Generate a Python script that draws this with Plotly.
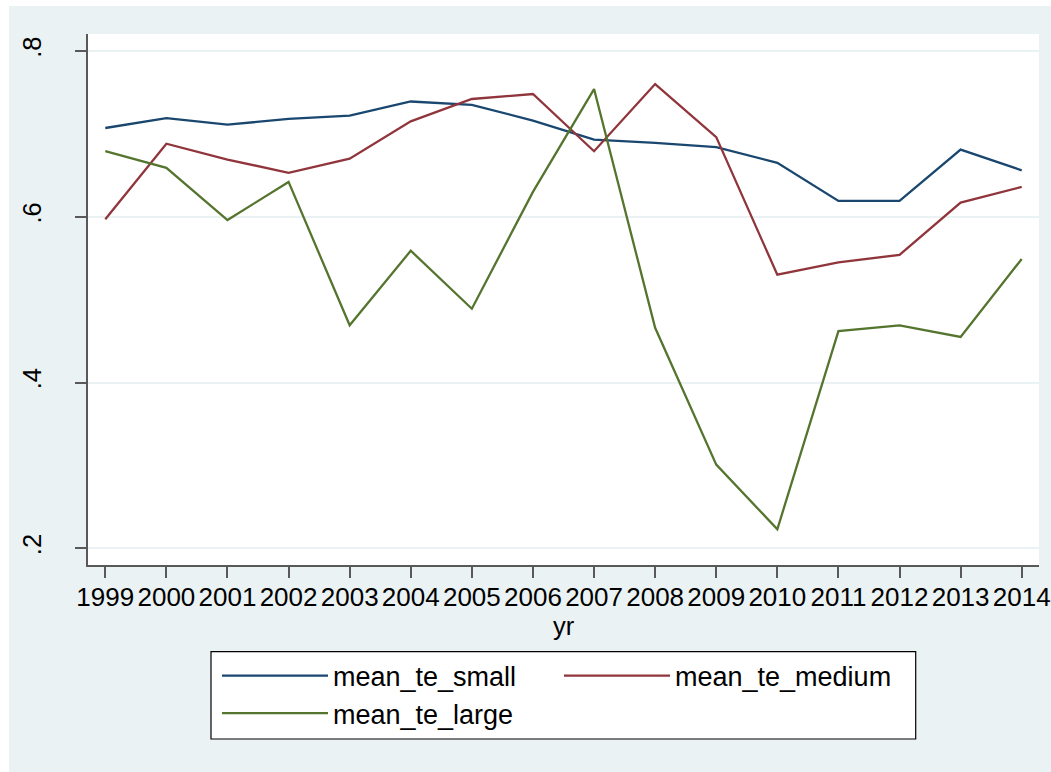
import plotly.graph_objects as go

# Mean technical efficiency by firm size, 1999-2014
years = list(range(1999, 2015))
mean_te_small = [0.707, 0.719, 0.711, 0.718, 0.722, 0.739, 0.735, 0.716, 0.693, 0.689,
                 0.684, 0.665, 0.619, 0.619, 0.681, 0.656]
mean_te_medium = [0.597, 0.688, 0.669, 0.653, 0.670, 0.715, 0.742, 0.748, 0.679, 0.760,
                  0.696, 0.530, 0.545, 0.554, 0.617, 0.636]
mean_te_large = [0.679, 0.659, 0.596, 0.642, 0.469, 0.559, 0.489, 0.630, 0.754, 0.466,
                 0.301, 0.223, 0.462, 0.469, 0.455, 0.549]

series_names = ["mean_te_small", "mean_te_medium", "mean_te_large"]
series_colors = ["#1A476F", "#90353B", "#55752F"]
series_legends = ["legend", "legend", "legend2"]

y_tickvals = [0.2, 0.4, 0.6, 0.8]
y_ticktext = [".2", ".4", ".6", ".8"]
x_title = "yr"

BG = "#EAF2F3"
AXIS = "#595959"
FONT = "Liberation Sans, Arial, sans-serif"

W, H = 1051, 772
ML, MR, MT, MB = 88, 12, 34, 207
PW, PH = W - ML - MR, H - MT - MB


def px_x(p):
    return (p - ML) / PW


def px_y(p):
    return (H - MB - p) / PH


fig = go.Figure()
for name, vals, color, lg in zip(series_names,
                                 [mean_te_small, mean_te_medium, mean_te_large],
                                 series_colors, series_legends):
    fig.add_trace(go.Scatter(x=years, y=vals, mode="lines", name=name,
                             line=dict(color=color, width=2.3), legend=lg))

legend_common = dict(
    orientation="h", xanchor="left", yanchor="middle",
    bgcolor="rgba(0,0,0,0)", borderwidth=0, itemwidth=106,
    font=dict(family=FONT, size=27, color="#000000"),
    entrywidth=221, entrywidthmode="pixels", tracegroupgap=0,
)

fig.update_layout(
    width=W, height=H,
    margin=dict(l=ML, r=MR, t=MT, b=MB, autoexpand=False),
    paper_bgcolor=BG, plot_bgcolor="#FFFFFF",
    font=dict(family=FONT, color="#000000"),
    showlegend=True,
    legend=dict(x=px_x(217), y=px_y(676), **legend_common),
    legend2=dict(x=px_x(217), y=px_y(713.5), **legend_common),
    xaxis=dict(
        range=[1998.717, 2014.283], tickmode="array", tickvals=years,
        ticktext=[str(y) for y in years], tickangle=0,
        tickfont=dict(family=FONT, size=26, color="#000000"),
        ticklabeloverflow="allow",
        showgrid=False, zeroline=False,
        showline=True, linecolor=AXIS, linewidth=1.5,
        ticks="outside", ticklen=11, tickwidth=1.5, tickcolor=AXIS,
        ticklabelstandoff=-3,
        title=dict(text=x_title, font=dict(family=FONT, size=25.5, color="#000000"),
                   standoff=0),
    ),
    yaxis=dict(
        range=[0.1799, 0.8204], tickmode="array", tickvals=y_tickvals,
        ticktext=y_ticktext, tickangle=-90,
        tickfont=dict(family=FONT, size=25.5, color="#000000"),
        showgrid=True, gridcolor=BG, gridwidth=2, zeroline=False,
        showline=True, linecolor=AXIS, linewidth=1.5,
        ticks="outside", ticklen=11, tickwidth=1.5, tickcolor=AXIS,
        ticklabelstandoff=24,
    ),
    shapes=[
        # white strips framing the graph region
        dict(type="rect", xref="paper", yref="paper", layer="below",
             x0=px_x(0), x1=px_x(9), y0=px_y(H), y1=px_y(0),
             fillcolor="#FFFFFF", line=dict(width=0)),
        dict(type="rect", xref="paper", yref="paper", layer="below",
             x0=px_x(0), x1=px_x(W), y0=px_y(6), y1=px_y(0),
             fillcolor="#FFFFFF", line=dict(width=0)),
        # legend box
        dict(type="rect", xref="paper", yref="paper", layer="above",
             x0=px_x(211), x1=px_x(915.7), y0=px_y(739), y1=px_y(651.7),
             fillcolor="#FFFFFF", line=dict(color="#000000", width=1.2)),
    ],
)

fig.write_html("out.html")
